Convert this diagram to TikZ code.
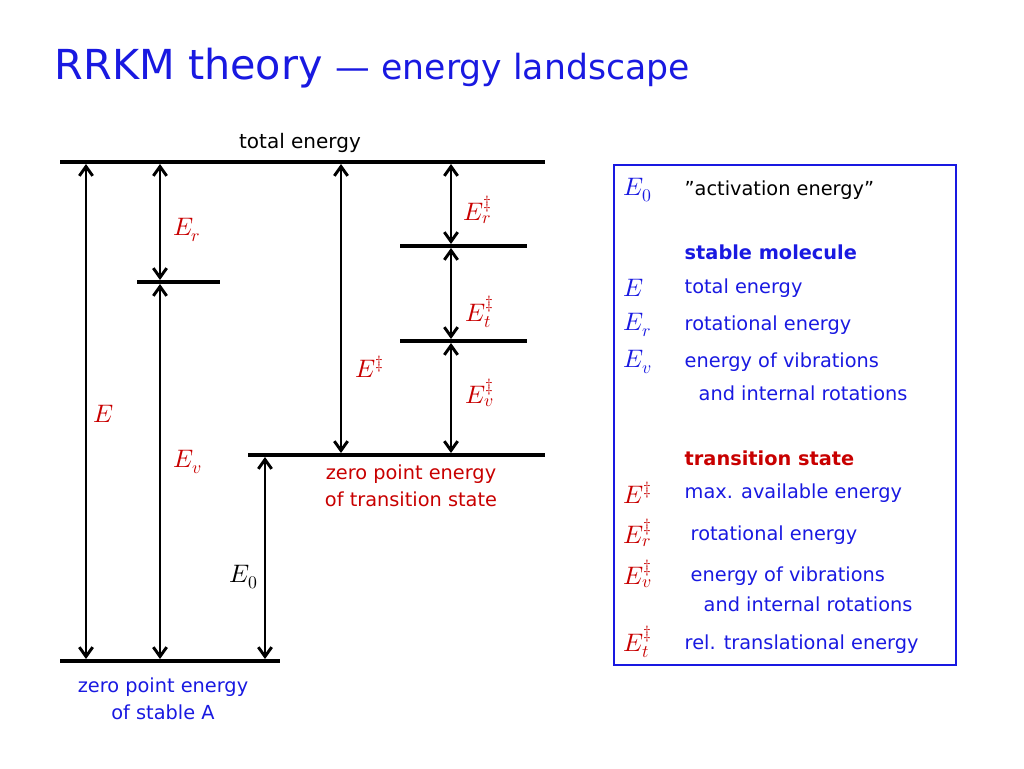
\documentclass[tikz,border=0pt]{standalone}
\usepackage{fontspec}
\setmainfont{DejaVu Sans}
\usepackage{unicode-math}
\setmathfont{Latin Modern Math}
\usetikzlibrary{arrows.meta}
\definecolor{tblue}{RGB}{25,25,225}
\definecolor{tred}{RGB}{200,0,0}
\begin{document}
\begin{tikzpicture}[x=0.75pt,y=-0.75pt,
  lvl/.style={line width=2.6pt},
  dbl/.style={line width=2.2pt,{Straight Barb[length=7pt,width=10pt]}-{Straight Barb[length=7pt,width=10pt]}},
  lab/.style={font=\fontsize{15}{18}\selectfont},
  mlab/.style={font=\fontsize{19}{22}\selectfont},
  sym/.style={font=\fontsize{19}{22}\selectfont,anchor=west},
  txt/.style={font=\fontsize{14.5}{17}\selectfont,anchor=west,text=tblue}]
\useasboundingbox (0,0) rectangle (1024,768);
\node[anchor=west,text=tblue,font=\fontsize{31}{36}\selectfont] (t) at (50,68) {RRKM theory \fontsize{26}{30}\selectfont — energy landscape};
\node[lab] (te) at (300,143) {total energy};
% levels
\coordinate (a1) at (60,162); \coordinate (a2) at (545,162);
\coordinate (b1) at (60,661); \coordinate (b2) at (280,661);
\coordinate (c1) at (137,282); \coordinate (c2) at (220,282);
\coordinate (d1) at (248,455); \coordinate (d2) at (545,455);
\coordinate (e1) at (400,246); \coordinate (e2) at (527,246);
\coordinate (f1) at (400,341); \coordinate (f2) at (527,341);
\draw[lvl] (a1)--(a2); \draw[lvl] (b1)--(b2); \draw[lvl] (c1)--(c2);
\draw[lvl] (d1)--(d2); \draw[lvl] (e1)--(e2); \draw[lvl] (f1)--(f2);
% arrows
\draw[dbl] (86,164)--(86,659);
\draw[dbl] (160,164)--(160,280);
\draw[dbl] (160,284)--(160,659);
\draw[dbl] (265,457)--(265,659);
\draw[dbl] (341,164)--(341,453);
\draw[dbl] (451,164)--(451,244);
\draw[dbl] (451,248)--(451,339);
\draw[dbl] (451,343)--(451,453);
% labels
\node[mlab,text=tred] (l1) at (187,230) {$E_r$};
\node[mlab,text=tred] (l2) at (104,414) {$E$};
\node[mlab,text=tred] (l3) at (188,462) {$E_v$};
\node[mlab] (l4) at (244,577) {$E_0$};
\node[mlab,text=tred] (l5) at (370,367) {$E^{\ddagger}$};
\node[mlab,text=tred] (l6) at (478,210) {$E_r^{\ddagger}$};
\node[mlab,text=tred] (l7) at (480,312) {$E_t^{\ddagger}$};
\node[mlab,text=tred] (l8) at (480,393) {$E_v^{\ddagger}$};
\node[lab,text=tred,align=center,font=\fontsize{14.5}{20}\selectfont] (z1) at (411,486) {zero point energy\\of transition state};
\node[lab,text=tblue,align=center,font=\fontsize{14.5}{20}\selectfont] (z2) at (163,699) {zero point energy\\of stable A};
% legend box
\draw[tblue,line width=1.6pt] (614,165) rectangle (956,665);
\node[sym,text=tblue] (s0) at (619,190) {$E_0$};
\node[txt,text=black] (x0) at (680,190) {”activation energy”};
\node[txt,font=\fontsize{14.5}{17}\selectfont\bfseries] (x1) at (680,252) {stable molecule};
\node[sym,text=tblue] (s2) at (619,288) {$E$};
\node[txt] (x2) at (680,288) {total energy};
\node[sym,text=tblue] (s3) at (619,325) {$E_r$};
\node[txt] (x3) at (680,325) {rotational energy};
\node[sym,text=tblue] (s4) at (619,362) {$E_v$};
\node[txt] (x4) at (680,362) {energy of vibrations};
\node[txt] (x5) at (694,393) {and internal rotations};
\node[txt,text=tred,font=\fontsize{14.5}{17}\selectfont\bfseries] (x6) at (680,458) {transition state};
\node[sym,text=tred] (s7) at (619,493) {$E^{\ddagger}$};
\node[txt] (x7) at (680,493) {max. available energy};
\node[sym,text=tred] (s8) at (619,533) {$E_r^{\ddagger}$};
\node[txt] (x8) at (686,535) {rotational energy};
\node[sym,text=tred] (s9) at (619,574) {$E_v^{\ddagger}$};
\node[txt] (x9) at (686,576) {energy of vibrations};
\node[txt] (x10) at (699,604) {and internal rotations};
\node[sym,text=tred] (s11) at (619,642) {$E_t^{\ddagger}$};
\node[txt] (x11) at (680,644) {rel. translational energy};
\end{tikzpicture}
\end{document}
